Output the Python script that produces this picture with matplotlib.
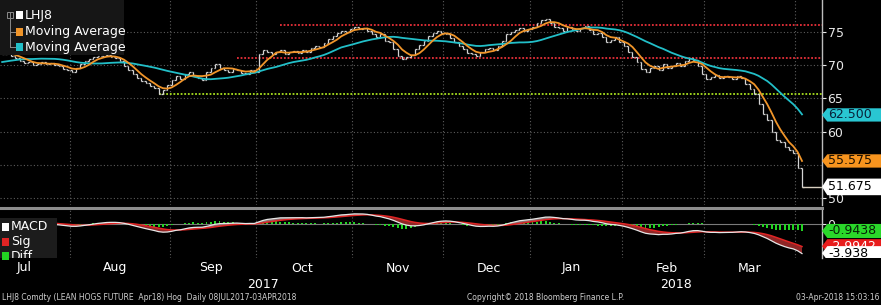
import numpy as np
import pandas as pd
import matplotlib
matplotlib.use('Agg')
from matplotlib import pyplot as plt
from matplotlib.patches import Polygon, Rectangle
from matplotlib.collections import LineCollection
from matplotlib.lines import Line2D

# closes of the days before the window, only used to start the averages
lead_closes = [69.8, 69.5, 69.2, 69.0, 69.4, 69.8, 70.0, 69.6, 69.9, 70.3,
               70.5, 70.2, 70.8, 71.0, 71.3, 71.6, 71.9, 72.0, 71.8]

# daily closes 10JUL2017 .. 03APR2018
closes = [
    71.6, 71.9, 71.4, 71.0, 70.6,
    70.3, 70.5, 70.0, 70.2, 70.4,
    70.1, 70.3, 70.0, 69.8, 69.4,
    69.2, 69.0, 69.6, 70.2, 70.6,
    70.9, 71.2, 71.4, 71.3, 71.5,
    71.2, 71.0, 70.6, 69.8, 69.2,
    68.6, 68.0, 67.6, 67.3, 66.9,
    66.5, 65.7, 66.2, 67.0, 67.8,
    68.4, 67.9, 68.6, 68.9, 68.4,
    68.0, 67.8, 69.0, 69.6, 70.2,
    69.6, 69.2, 69.0, 69.4, 69.3,
    68.8, 68.6, 69.2, 69.0, 71.6,
    72.2, 72.0, 71.6, 71.9, 72.2,
    71.7, 71.9, 72.1, 71.8, 72.3,
    72.0, 72.6, 72.9, 72.7, 73.3,
    73.9, 74.4, 74.8, 75.2, 75.0,
    75.5, 75.8, 75.4, 75.6, 75.2,
    74.6, 74.2, 74.6, 73.6, 73.4,
    72.4, 71.4, 70.9, 71.2, 71.5,
    72.4, 73.0, 73.6, 74.4, 74.8,
    75.2, 74.9, 74.6, 74.0, 73.4,
    72.8, 72.4, 71.8, 71.6, 71.4,
    72.0, 72.4, 72.6, 72.2, 72.8,
    73.6, 74.6, 75.0, 75.3, 75.6,
    75.2, 75.4, 75.8, 76.3, 76.8,
    77.0, 76.4, 75.8, 75.6, 75.2,
    75.8, 75.4, 75.1, 75.6, 75.9,
    75.3, 74.6, 74.9, 74.2, 73.5,
    73.8, 74.2, 73.4, 72.8, 72.0,
    71.2, 70.4, 69.4, 69.0, 69.6,
    69.8, 69.3, 70.2, 69.6, 69.9,
    70.3, 69.8, 70.6, 71.0, 70.8,
    69.8, 68.6, 67.9, 68.2, 68.5,
    68.0, 68.3, 68.2, 67.9, 68.3,
    68.1, 67.2, 66.4, 65.6, 64.2,
    62.6, 61.8, 60.0, 58.8, 58.4,
    57.7, 57.2, 56.8, 54.5, 51.675,
]

holidays = ['2017-09-04', '2017-11-23', '2017-12-25', '2018-01-01',
            '2018-01-15', '2018-02-19', '2018-03-30']

# horizontal level lines: value, first day, colour
level_values = [76.0, 71.0, 65.6]
level_starts = ['2017-10-09', '2017-09-25', '2017-08-29']
level_colors = ['#e8303a', '#e8303a', '#a8e01e']

price_ticks = [50, 60, 65, 70, 75]     # 55 sits under the orange tag
price_grid = [50, 55, 60, 65, 70, 75]

month_names = ['Jul', 'Aug', 'Sep', 'Oct', 'Nov', 'Dec', 'Jan', 'Feb', 'Mar']
year_labels = ['2017', '2018']
year_dates = ['2017-10-03', '2018-02-20']

# last values shown in the tags
tag_ma_long = '62.500'
tag_ma_short = '55.575'
tag_last = '51.675'
tag_diff = '-0.9438'
tag_sig = '-2.9942'
tag_macd = '-3.938'

dates = pd.bdate_range('2017-07-10', '2018-04-03')
dates = dates[~dates.isin(pd.to_datetime(holidays))]
n = len(closes)
dates = dates[:n]
xi = np.arange(n)

allc = pd.Series(lead_closes + closes)
nl = len(lead_closes)
ma_short = allc.rolling(5).mean().values[nl:]
ma_long = allc.rolling(20).mean().values[nl:]
ema12 = allc.ewm(span=12, adjust=False).mean()
ema26 = allc.ewm(span=26, adjust=False).mean()
macd_all = ema12 - ema26
sig_all = macd_all.ewm(span=9, adjust=False).mean()
macd = macd_all.values[nl:]
sig = sig_all.values[nl:]
diff = macd - sig
opens = allc.shift(1).values[nl:]
cl = np.array(closes)

W, H = 881, 305
fig = plt.figure(figsize=(W / 100, H / 100), dpi=100, facecolor='black')
plt.rcParams['font.family'] = 'DejaVu Sans'

axr = 822 / W
ax = fig.add_axes([0, 1 - 205 / H, axr, 205 / H], facecolor='black')
ax2 = fig.add_axes([0, 1 - 258 / H, axr, 48 / H], facecolor='black')
xlim = (-0.5, 188.6)
grid_c = '#5c5c5c'
txt_c = '#e8e8e8'

# month boundaries and mid-month label spots
bounds = [i for i in range(1, n) if dates[i].month != dates[i - 1].month]
seen = []
label_pos = []
for i, d in enumerate(dates):
    key = (d.year, d.month)
    if d.day >= 15 and key not in seen:
        seen.append(key)
        label_pos.append(i)

for a in (ax, ax2):
    a.set_xlim(*xlim)
    for s in ['top', 'left', 'bottom']:
        a.spines[s].set_visible(False)
    a.spines['right'].set_color('#bdbdbd')
    a.spines['right'].set_linewidth(1.0)
    a.yaxis.tick_right()
    a.tick_params(axis='y', colors=txt_c, labelsize=9, length=3, pad=1)
    a.set_xticks([])
    for b in bounds:
        a.axvline(b - 0.5, color=grid_c, ls=(0, (1, 2)), lw=0.8, zorder=0)

# ---- main panel
ax.set_ylim(48.95, 79.79)
ax.set_yticks(price_ticks)
for v in price_grid:
    ax.axhline(v, color=grid_c, ls=(0, (1, 2)), lw=0.8, zorder=0)

for v, s, c in zip(level_values, level_starts, level_colors):
    i0 = dates.get_loc(pd.Timestamp(s))
    ax.hlines(v, i0, xlim[1], colors=c, linestyles=(0, (1, 1)), lw=1.3, zorder=1)

segs = []
tk = 0.38
for i in range(n):
    o, c = opens[i], cl[i]
    segs.append([(i, min(o, c)), (i, max(o, c))])
    segs.append([(i - tk, o), (i, o)])
    segs.append([(i, c), (i + tk, c)])
ax.add_collection(LineCollection(segs, colors='#d4d4d4', linewidths=0.9, zorder=2))
ax.hlines(cl[-1], n - 1, xlim[1], colors='#d8cfc0', lw=1.0, zorder=2)

ax.plot(xi, ma_long, color='#22bfc8', lw=1.3, zorder=3)
ax.plot(xi, ma_short, color='#f0952a', lw=1.3, zorder=4)

# legend box
ax.add_patch(Rectangle((0, 1 - 55 / 205), 124 / axr / W, 55 / 205, transform=ax.transAxes,
                       facecolor='#161616', edgecolor='none', zorder=5))
leg = [('LHJ8', 'white', 15), ('Moving Average', '#f0952a', 32), ('Moving Average', '#22bfc8', 47)]
for lab, col, yp in leg:
    fy = 1 - yp / H
    fig.add_artist(Rectangle((16 / W, fy - 4 / H), 7 / W, 8 / H, facecolor=col,
                             edgecolor='none', transform=fig.transFigure, zorder=6))
    fig.text(25 / W, fy, lab, color='white', fontsize=9, va='center', ha='left', zorder=6)
fig.add_artist(Line2D([10 / W, 10 / W], [1 - 12 / H, 1 - 47 / H], color='#8a8a8a', lw=0.7))
for yp in (32, 47):
    fig.add_artist(Line2D([10 / W, 15 / W], [1 - yp / H, 1 - yp / H], color='#8a8a8a', lw=0.7))
fig.add_artist(Rectangle((7 / W, 1 - 18 / H), 6 / W, 6 / H, facecolor='none',
                         edgecolor='#8a8a8a', lw=0.7, transform=fig.transFigure))

# ---- lower panel
ax2.set_ylim(-4.59, 1.89)
ax2.set_yticks([0])
ax2.axhline(0, color='#7a7a7a', lw=0.8, zorder=0)
ax2.bar(xi, diff, width=0.45, color='#22d422', zorder=1)
ax2.fill_between(xi, macd, sig, where=macd < sig, color='#8e2626', lw=0, zorder=2, interpolate=True)
ax2.fill_between(xi, macd, sig, where=macd >= sig, color='#8a7070', lw=0, zorder=2, interpolate=True)
ax2.plot(xi, sig, color='#e02424', lw=1.1, zorder=3)
ax2.plot(xi, macd, color='#e6e6e6', lw=0.9, zorder=4)

ax2.add_patch(Rectangle((0, 0), 57 / axr / W, 40 / 48, transform=ax2.transAxes,
                        facecolor='#1c1c1c', edgecolor='none', zorder=5))
leg2 = [('MACD', 'white', 227), ('Sig', '#e02424', 242), ('Diff', '#22d422', 256)]
for lab, col, yp in leg2:
    fy = 1 - yp / H
    fig.add_artist(Rectangle((2 / W, fy - 4 / H), 7 / W, 8 / H, facecolor=col,
                             edgecolor='none', transform=fig.transFigure, zorder=6))
    t = fig.text(11 / W, fy, lab, color='white', fontsize=9, va='center', ha='left', zorder=6)
    t.set_clip_path(Rectangle((0, 1 - 258 / H), 1, 48 / H, transform=fig.transFigure))

# separator between panels
fig.add_artist(Line2D([0, axr], [1 - 207.5 / H] * 2, color='#8c8c8c', lw=2.2))

# ---- value tags to the right
tw = (W - 822) / W


def tag_axes(a):
    p = a.get_position()
    t = fig.add_axes([axr, p.y0, tw, p.height], zorder=10)
    t.set_xlim(0, 1)
    t.set_ylim(*a.get_ylim())
    t.axis('off')
    return t


def tag(t, y, text, face, tcol, half):
    t.add_patch(Polygon([(0, y), (0.09, y + half), (1.0, y + half), (1.0, y - half),
                         (0.09, y - half)], closed=True, facecolor=face, edgecolor='none'))
    t.text(0.1, y, text, color=tcol, fontsize=9, va='center', ha='left')


t1 = tag_axes(ax)
tag(t1, float(tag_ma_long), tag_ma_long, '#29c6d2', '#08223a', 1.0)
tag(t1, float(tag_ma_short), tag_ma_short, '#f7941e', '#1a0f00', 1.0)
tag(t1, float(tag_last), tag_last, 'white', 'black', 1.25)

t2 = tag_axes(ax2)
tag(t2, float(tag_sig), tag_sig, '#e81c1c', 'white', 0.95)
tag(t2, float(tag_diff), tag_diff, '#2ad82a', '#062006', 0.95)
tag(t2, float(tag_macd), tag_macd, 'white', 'black', 0.95)

# ---- month and year labels
xpix = lambda i: (i - xlim[0]) / (xlim[1] - xlim[0]) * axr
for name, i in zip(month_names, label_pos):
    fig.text(xpix(i), 1 - 268 / H, name, color='white', fontsize=9, ha='center', va='center')
for lab, d in zip(year_labels, year_dates):
    i = dates.get_loc(pd.Timestamp(d))
    fig.text(xpix(i), 1 - 285 / H, lab, color='white', fontsize=9, ha='center', va='center')

# ---- footer
fy = 1 - 298 / H
fig.text(2 / W, fy, 'LHJ8 Comdty (LEAN HOGS FUTURE  Apr18) Hog  Daily 08JUL2017-03APR2018',
         color='#cfcfcf', fontsize=5.5, ha='left', va='center')
fig.text(467 / W, fy, 'Copyright\u00a9 2018 Bloomberg Finance L.P.', color='#cfcfcf',
         fontsize=5.5, ha='left', va='center')
fig.text(879 / W, fy, '03-Apr-2018 15:03:16', color='#cfcfcf', fontsize=5.5,
         ha='right', va='center')

fig.savefig('out.png', dpi=100, facecolor='black')
